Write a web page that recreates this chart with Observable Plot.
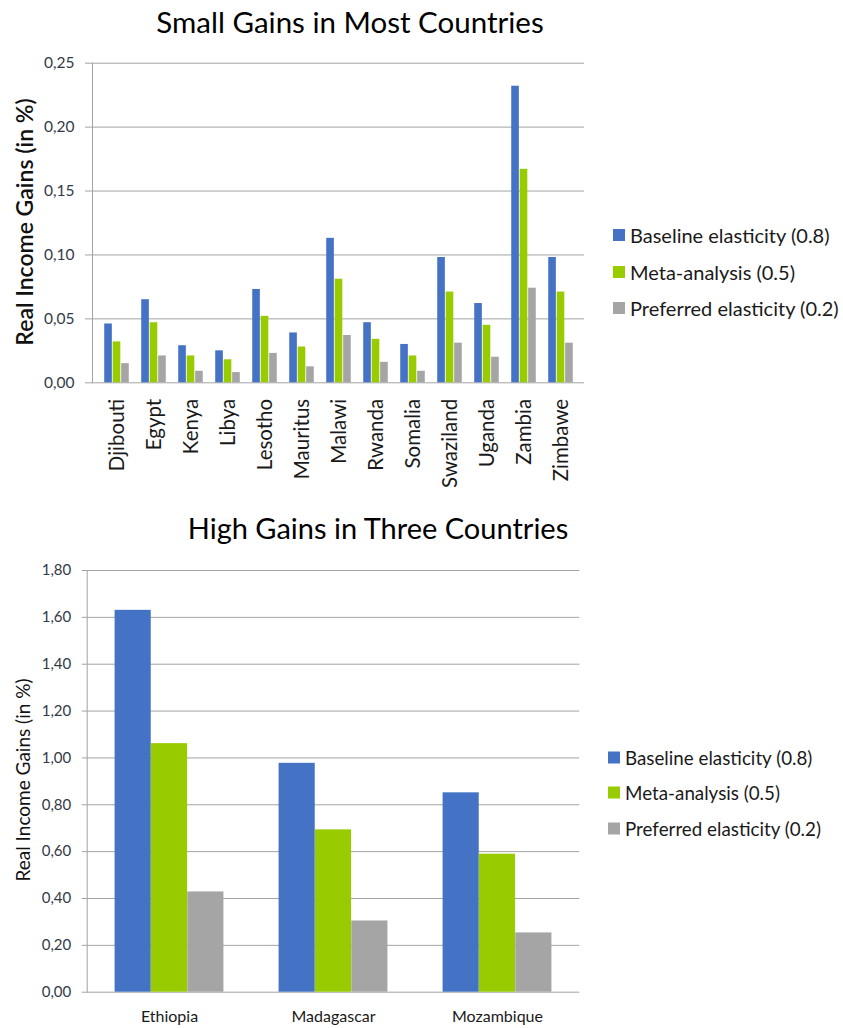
<!DOCTYPE html>
<html>
<head>
<meta charset="utf-8">
<script src="https://cdn.jsdelivr.net/npm/d3@7"></script>
<script src="https://cdn.jsdelivr.net/npm/@observablehq/plot@0.6"></script>
<style>
  body { margin: 0; background: #fff; font-family: Lato, "Open Sans", sans-serif; }
  #wrap { position: relative; width: 843px; height: 1028px; overflow: hidden; background: #fff; }
  .title { position: absolute; transform: translate(-50%, -50%); white-space: nowrap; color: #000; }
  .ytitle { position: absolute; transform: translate(-50%, -50%) rotate(-90deg); white-space: nowrap; color: #111; }
  .legend { position: absolute; color: #1a1a1a; }
  .legend .item { position: absolute; left: 0; display: flex; align-items: center; white-space: nowrap; transform: translateY(-50%); }
  .legend .sw { display: inline-block; margin-right: 5px; }
</style>
</head>
<body>
<div id="wrap"></div>
<script>
// ---------- data ----------
const seriesNames = ["Baseline elasticity (0.8)", "Meta-analysis (0.5)", "Preferred elasticity (0.2)"];
const seriesColors = ["#4472C4", "#99CC00", "#A5A5A5"];

const smallCountries = ["Djibouti", "Egypt", "Kenya", "Libya", "Lesotho", "Mauritus", "Malawi",
  "Rwanda", "Somalia", "Swaziland", "Uganda", "Zambia", "Zimbawe"];
const smallBaseline  = [0.046, 0.065, 0.029, 0.025, 0.073, 0.039, 0.113, 0.047, 0.030, 0.098, 0.062, 0.232, 0.098];
const smallMeta      = [0.032, 0.047, 0.021, 0.018, 0.052, 0.028, 0.081, 0.034, 0.021, 0.071, 0.045, 0.167, 0.071];
const smallPreferred = [0.015, 0.021, 0.009, 0.008, 0.023, 0.0125, 0.037, 0.016, 0.009, 0.031, 0.020, 0.074, 0.031];
const smallTicks = [0, 0.05, 0.10, 0.15, 0.20, 0.25];

const largeCountries = ["Ethiopia", "Madagascar", "Mozambique"];
const largeBaseline  = [1.63, 0.977, 0.851];
const largeMeta      = [1.061, 0.693, 0.589];
const largePreferred = [0.428, 0.304, 0.253];
const largeTicks = [0, 0.2, 0.4, 0.6, 0.8, 1.0, 1.2, 1.4, 1.6, 1.8];

const titleSmall = "Small Gains in Most Countries";
const titleLarge = "High Gains in Three Countries";
const yTitle = "Real Income Gains (in %)";

// ---------- helpers ----------
const fmt = d => d3.format(".2f")(d).replace(".", ",");
const wrap = document.getElementById("wrap");

function table(countries, cols) {
  const rows = [];
  cols.forEach((vals, i) => countries.forEach((c, j) => rows.push({country: c, series: seriesNames[i], value: vals[j]})));
  return rows;
}

function makeChart(cfg) {
  const rows = table(cfg.countries, cfg.values);
  const bw = (cfg.width - cfg.ml - cfg.mr) / cfg.countries.length;
  const barW = bw * cfg.group / 3;
  const off = (bw - 3 * barW) / 2;
  const bars = seriesNames.map((s, i) => Plot.barY(rows.filter(r => r.series === s), {
    x: "country", y: "value", fill: seriesColors[i],
    insetLeft: off + i * barW, insetRight: bw - off - (i + 1) * barW
  }));
  const svg = Plot.plot({
    width: cfg.width, height: cfg.height,
    marginLeft: cfg.ml, marginRight: cfg.mr, marginTop: cfg.mt, marginBottom: cfg.mb,
    style: {fontFamily: "Lato, 'Open Sans', sans-serif", background: "transparent", overflow: "visible"},
    x: {domain: cfg.countries, padding: 0, label: null},
    y: {domain: cfg.yDomain, label: null},
    marks: [
      Plot.ruleY(cfg.ticks, {stroke: "#a3a3a3", strokeWidth: 1}),
      ...bars,
      Plot.frame({anchor: "left", stroke: "#a3a3a3"}),
      Plot.axisY({ticks: cfg.ticks, tickFormat: fmt, tickSize: cfg.tickSize, tickPadding: cfg.tickPad,
        stroke: "#a3a3a3", fill: "#333a48", fontSize: cfg.yFont, label: null}),
      Plot.axisX(cfg.xAxis)
    ]
  });
  svg.style.position = "absolute";
  svg.style.left = "0px";
  svg.style.top = cfg.top + "px";
  wrap.appendChild(svg);
}

function addTitle(text, x, y, size) {
  const d = document.createElement("div");
  d.className = "title"; d.textContent = text;
  d.style.left = x + "px"; d.style.top = y + "px"; d.style.fontSize = size + "px";
  wrap.appendChild(d);
}
function addYTitle(text, x, y, size, weight) {
  const d = document.createElement("div");
  d.className = "ytitle"; d.textContent = text;
  d.style.left = x + "px"; d.style.top = y + "px"; d.style.fontSize = size + "px"; d.style.fontWeight = weight;
  wrap.appendChild(d);
}
function addLegend(x, ys, size, sw) {
  const lg = document.createElement("div");
  lg.className = "legend"; lg.style.left = x + "px"; lg.style.top = "0px";
  seriesNames.forEach((s, i) => {
    const it = document.createElement("div");
    it.className = "item"; it.style.top = ys[i] + "px"; it.style.fontSize = size + "px";
    const b = document.createElement("span");
    b.className = "sw"; b.style.width = sw + "px"; b.style.height = sw + "px"; b.style.background = seriesColors[i];
    const t = document.createElement("span"); t.textContent = s;
    it.appendChild(b); it.appendChild(t); lg.appendChild(it);
  });
  wrap.appendChild(lg);
}

// ---------- top chart ----------
makeChart({
  countries: smallCountries, values: [smallBaseline, smallMeta, smallPreferred],
  width: 600, height: 490, top: 0, ml: 92, mr: 16, mt: 62.7, mb: 490 - 382.3,
  group: 0.671, yDomain: [0, 0.25], ticks: smallTicks, tickSize: 7, tickPad: 11, yFont: 15.5,
  xAxis: {tickRotate: -90, tickSize: 0, tickPadding: 16, fontSize: 20.5, fill: "#1a1a1a", label: null}
});
addTitle(titleSmall, 350, 21, 29.5);
addYTitle(yTitle, 24, 222, 23, 600);
addLegend(613, [235, 271.5, 308], 20, 12);

// ---------- bottom chart ----------
makeChart({
  countries: largeCountries, values: [largeBaseline, largeMeta, largePreferred],
  width: 600, height: 538, top: 490, ml: 86.7, mr: 600 - 579.3, mt: 80, mb: 538 - (991.7 - 490),
  group: 0.664, yDomain: [0, 1.8], ticks: largeTicks, tickSize: 5, tickPad: 11, yFont: 15,
  xAxis: {tickSize: 0, tickPadding: 18, fontSize: 16, fill: "#1a1a1a", label: null}
});
addTitle(titleLarge, 378, 527, 29);
addYTitle(yTitle, 22, 780, 19, 400);
addLegend(608, [757, 792, 828], 18.8, 12);
</script>
</body>
</html>
